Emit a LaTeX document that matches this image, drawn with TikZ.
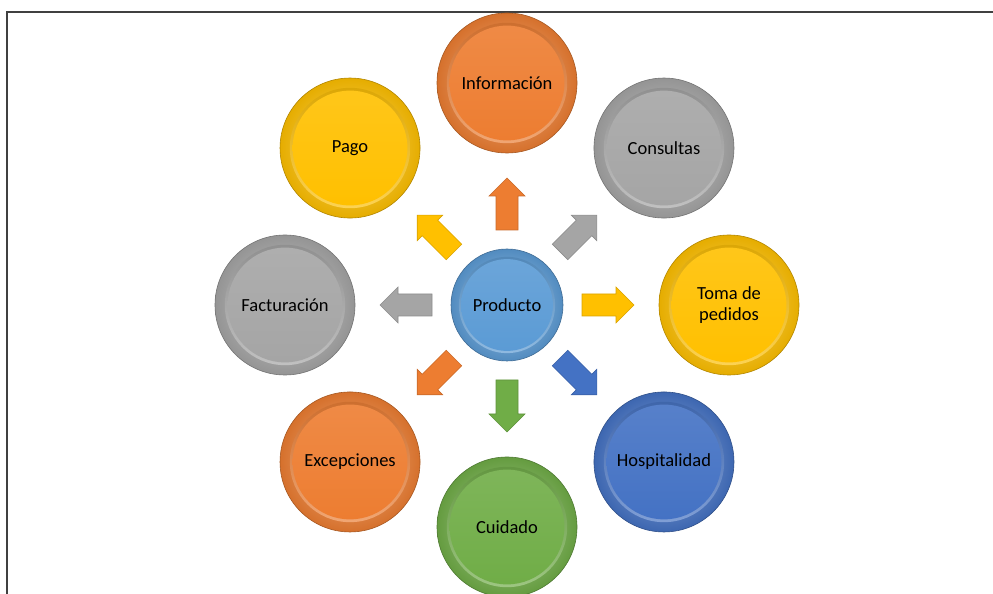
\documentclass[tikz,border=0pt]{standalone}
\usepackage{fontspec}
\setmainfont{Carlito}
\usetikzlibrary{calc}
\definecolor{corange}{HTML}{ED7D31}
\definecolor{cgray}{HTML}{A5A5A5}
\definecolor{cgold}{HTML}{FFC000}
\definecolor{cblue}{HTML}{4472C4}
\definecolor{cgreen}{HTML}{70AD47}
\definecolor{clblue}{HTML}{5B9BD5}
\tikzset{
  btn/.style 2 args={circle, minimum size=2*#2, inner sep=0pt,
    font=\fontsize{18.5}{21}\selectfont, align=center, text=black,
    draw=#1!70!black, line width=0.6pt,
    shading=radial, inner color=#1!55!white, outer color=#1!90!black,
    path picture={
      \shade[top color=#1!85!black, bottom color=#1!65!white]
        (path picture bounding box.center) circle[radius=0.86*#2];
      \shade[top color=#1!90!white, bottom color=#1]
        (path picture bounding box.center) circle[radius=0.82*#2];
    }},
  blockarrow/.pic={
    \filldraw[pic actions] (-26,-11) -- (8,-11) -- (8,-18) -- (26,0)
      -- (8,18) -- (8,11) -- (-26,11) -- cycle;},
  arr/.style={fill=#1, draw=#1!85!black, line width=0.6pt}
}
\begin{document}
\begin{tikzpicture}[x=1pt,y=1pt]
\useasboundingbox (0,0) rectangle (993,594);
\clip (0,0) rectangle (993,594);
\draw[line width=1.2pt, black!75] (7,-5) -- (7,582) -- (1000,582);

\node[btn={clblue}{56}] (prod) at (507,289) {Producto};

\node[btn={corange}{70}] (info) at ($(prod)+(90:222)$) {Información};
\node[btn={cgray}{70}] (cons) at ($(prod)+(45:222)$) {Consultas};
\node[btn={cgold}{70}] (toma) at ($(prod)+(0:222)$) {Toma de\\pedidos};
\node[btn={cblue}{70}] (hosp) at ($(prod)+(-45:222)$) {Hospitalidad};
\node[btn={cgreen}{70}] (cuid) at ($(prod)+(-90:222)$) {Cuidado};
\node[btn={corange}{70}] (exce) at ($(prod)+(-135:222)$) {Excepciones};
\node[btn={cgray}{70}] (fact) at ($(prod)+(180:222)$) {Facturación};
\node[btn={cgold}{70}] (pago) at ($(prod)+(135:222)$) {Pago};

\pic (a1) [rotate=90, arr=corange] at ($(prod)+(90:101)$) {blockarrow};
\pic (a2) [rotate=45, arr=cgray] at ($(prod)+(45:101)$) {blockarrow};
\pic (a3) [rotate=0, arr=cgold] at ($(prod)+(0:101)$) {blockarrow};
\pic (a4) [rotate=-45, arr=cblue] at ($(prod)+(-45:101)$) {blockarrow};
\pic (a5) [rotate=-90, arr=cgreen] at ($(prod)+(-90:101)$) {blockarrow};
\pic (a6) [rotate=-135, arr=corange] at ($(prod)+(-135:101)$) {blockarrow};
\pic (a7) [rotate=180, arr=cgray] at ($(prod)+(180:101)$) {blockarrow};
\pic (a8) [rotate=135, arr=cgold] at ($(prod)+(135:101)$) {blockarrow};
\end{tikzpicture}
\end{document}
